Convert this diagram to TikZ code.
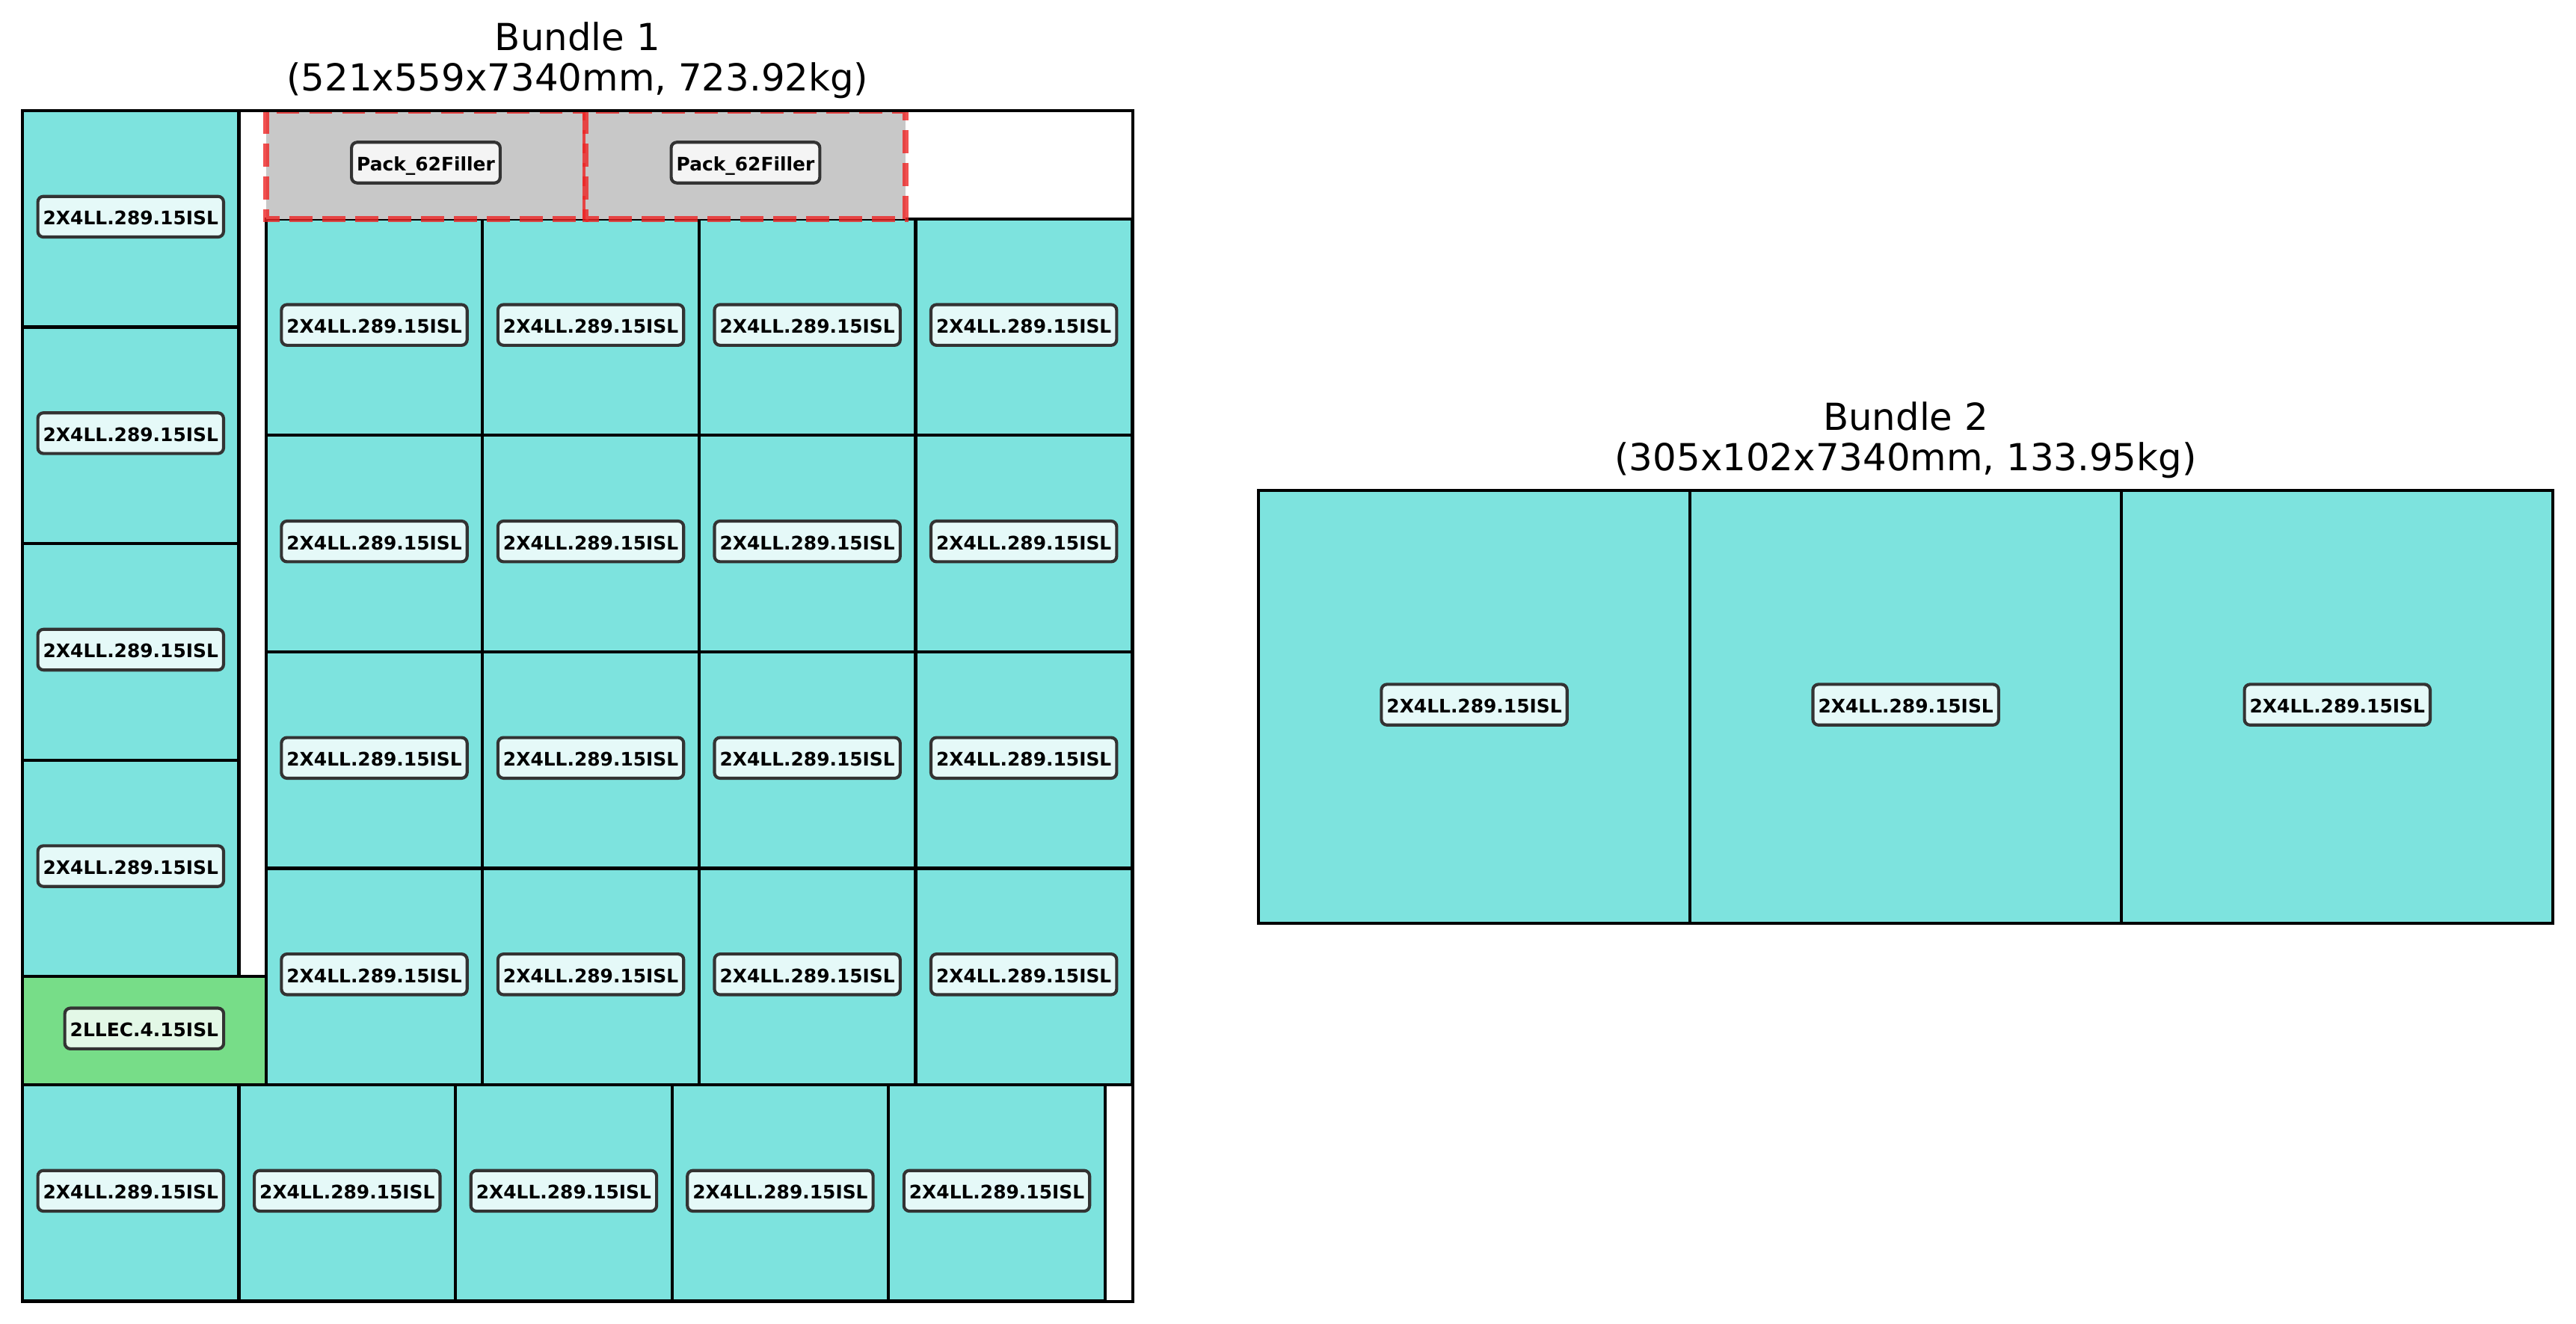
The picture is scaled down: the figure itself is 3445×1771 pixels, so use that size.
\documentclass[tikz,border=0pt]{standalone}
\usepackage{fontspec}
\setmainfont{DejaVu Sans}
\usetikzlibrary{positioning}
\definecolor{packcyan}{RGB}{125,227,222}
\definecolor{packgreen}{RGB}{119,221,136}
\definecolor{fillgray}{RGB}{200,200,200}
\definecolor{fillred}{RGB}{238,36,36}
\tikzset{
	pack/.style={draw=black, line width=1pt, fill=packcyan},
	packend/.style={pack, fill=packgreen},
	filler/.style={fill=fillgray, draw=fillred, draw opacity=0.8, line width=2pt, dash pattern=on 7.4pt off 3.2pt},
	lbl/.style={font=\fontsize{6}{7}\selectfont\bfseries, fill=white, fill opacity=0.8, text opacity=1, draw=black!80, line width=1pt, rounded corners=1.8pt, inner xsep=1.7pt, inner ysep=1.9pt, text height=0.73em, text depth=0.2em, yshift=0.7pt},
	ttl/.style={font=\fontsize{12}{13.2}\selectfont, align=center, inner sep=0pt},
	frame/.style={draw=black, line width=1pt}
}
\begin{document}
\begin{tikzpicture}[x=0.0846667mm, y=-0.0846667mm]
	\useasboundingbox (0,0) rectangle (3445,1771);
	% bundle 1
	\begin{scope}[shift={(30,148)}, x=0.2413mm, y=-0.2413mm]
		\begin{scope}
			\clip (0,0) rectangle (521,559);
			\foreach \i in {0,...,3}
				\draw[pack] (0,\i*101.6) rectangle ++(101.6,101.6);
			\draw[packend] (0,406.4) rectangle ++(114.3,50.8);
			\foreach \i in {0,...,3}
				\foreach \j in {0,...,3}
					\draw[pack] (114.3+\j*101.6,50.8+\i*101.6) rectangle ++(101.6,101.6);
			\foreach \j in {0,...,4}
				\draw[pack] (\j*101.6,457.2) rectangle ++(101.6,101.6);
			\foreach \k in {0,1}
				\draw[filler] (114.3+\k*150,0) rectangle ++(150,50.8);
		\end{scope}
		\foreach \i in {0,...,3}
			\node[lbl] (l\i) at (50.8,50.8+\i*101.6) {2X4LL.289.15ISL};
		\node[lbl] (e1) at (57.15,431.8) {2LLEC.4.15ISL};
		\foreach \i in {0,...,3}
			\foreach \j in {0,...,3}
				\node[lbl] (g\i\j) at (165.1+\j*101.6,101.6+\i*101.6) {2X4LL.289.15ISL};
		\foreach \j in {0,...,4}
			\node[lbl] (r\j) at (50.8+\j*101.6,508) {2X4LL.289.15ISL};
		\foreach \k in {0,1}
			\node[lbl] (f\k) at (189.3+\k*150,25.4) {Pack\_62Filler};
		\draw[frame] (0,0) rectangle (521,559);
		\coordinate (b1top) at (260.5,0);
	\end{scope}
	\node[ttl, above=3.6pt of b1top] (t1) {Bundle 1\\(521x559x7340mm, 723.92kg)};
	% bundle 2
	\begin{scope}[shift={(1683,656)}, x=0.4806mm, y=-0.4806mm]
		\foreach \j in {0,1,2} {
			\draw[pack] (\j*101.67,0) rectangle ++(101.67,102);
			\node[lbl] (s\j) at (50.83+\j*101.67,51) {2X4LL.289.15ISL};
		}
		\draw[frame] (0,0) rectangle (305,102);
		\coordinate (b2top) at (152.5,0);
	\end{scope}
	\node[ttl, above=3.6pt of b2top] (t2) {Bundle 2\\(305x102x7340mm, 133.95kg)};
\end{tikzpicture}
\end{document}
